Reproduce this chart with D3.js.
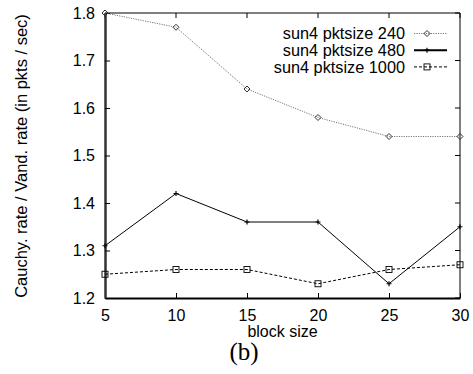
<!DOCTYPE html>
<html lang="en">
<head>
<meta charset="UTF-8">
<script src="https://d3js.org/d3.v7.min.js"></script>
<style>
  body { margin: 0; background: #fff; }
  text { font-family: "Liberation Sans", Arial, sans-serif; fill: #000; }
</style>
</head>
<body>
<div id="canvas"></div>
<script>
const blockSizes = [5, 10, 15, 20, 25, 30]
const pkt240 = [1.80, 1.77, 1.64, 1.58, 1.54, 1.54]
const pkt480 = [1.31, 1.42, 1.36, 1.36, 1.23, 1.35]
const pkt1000 = [1.25, 1.26, 1.26, 1.23, 1.26, 1.27]
const seriesNames = ["sun4 pktsize 240", "sun4 pktsize 480", "sun4 pktsize 1000"]
const yTicks = [1.2, 1.3, 1.4, 1.5, 1.6, 1.7, 1.8]

const W = 473, H = 374
const margin = {top: 13, right: 13, bottom: 76, left: 105}
const w = W - margin.left - margin.right
const h = H - margin.top - margin.bottom

const svg = d3.select("#canvas").append("svg").attr("width", W).attr("height", H)
const g = svg.append("g").attr("transform", `translate(${margin.left},${margin.top})`)

const x = d3.scaleLinear().domain([5, 30]).range([0, w])
const y = d3.scaleLinear().domain([1.2, 1.8]).range([h, 0])

// frame: top/right thin, left/bottom heavier
g.append("line").attr("x1", 0).attr("x2", w).attr("y1", 0).attr("y2", 0).attr("stroke", "#000").attr("stroke-width", 1)
g.append("line").attr("x1", w).attr("x2", w).attr("y1", 0).attr("y2", h).attr("stroke", "#000").attr("stroke-width", 1)

// inward ticks on top and right
g.selectAll(".tt").data(blockSizes).enter().append("line")
  .attr("x1", d => x(d)).attr("x2", d => x(d)).attr("y1", 0).attr("y2", 5)
  .attr("stroke", "#000")
g.selectAll(".rt").data(yTicks).enter().append("line")
  .attr("x1", w).attr("x2", w - 5).attr("y1", d => y(d)).attr("y2", d => y(d))
  .attr("stroke", "#000")

const xAxis = g.append("g").attr("transform", `translate(0,${h})`)
  .call(d3.axisBottom(x).tickValues(blockSizes).tickSizeInner(-5).tickSizeOuter(0).tickPadding(12))
const yAxis = g.append("g")
  .call(d3.axisLeft(y).tickValues(yTicks).tickFormat(d3.format(".1f")).tickSizeInner(-5).tickSizeOuter(0).tickPadding(10))
xAxis.select(".domain").attr("stroke-width", 2)
yAxis.select(".domain").attr("stroke-width", 2.5).attr("stroke", "#333")
svg.selectAll(".tick text").style("font-size", "16px").style("font-family", "'Liberation Sans', Arial, sans-serif")

g.append("text").attr("x", w / 2 + 0).attr("y", h + 39)
  .attr("text-anchor", "middle").style("font-size", "16px").text("block size")
svg.append("text").attr("transform", `translate(21,156) rotate(-90)`)
  .attr("text-anchor", "middle").attr("dy", "0.35em").style("font-size", "16.5px")
  .text("Cauchy. rate / Vand. rate (in pkts / sec)")
svg.append("text").attr("x", 244).attr("y", 360).attr("text-anchor", "middle")
  .style("font-family", "'Liberation Serif', 'DejaVu Serif', serif").style("font-size", "25px")
  .text("(b)")

const series = [
  {name: seriesNames[0], vals: pkt240, color: "#777", dash: "1.2,1.2", width: 1, marker: "diamond"},
  {name: seriesNames[1], vals: pkt480, color: "#000", dash: null, width: 1, marker: "plus"},
  {name: seriesNames[2], vals: pkt1000, color: "#000", dash: "3,2", width: 1, marker: "square"}
]

const line = d3.line().x(d => x(d[0])).y(d => y(d[1]))

function drawMarker(sel, type, cx, cy) {
  if (type === "diamond") {
    sel.append("path").attr("d", `M${cx},${cy - 3}L${cx + 3},${cy}L${cx},${cy + 3}L${cx - 3},${cy}Z`)
      .attr("fill", "none").attr("stroke", "#333").attr("stroke-width", 1)
  } else if (type === "plus") {
    sel.append("path").attr("d", `M${cx - 2.5},${cy}H${cx + 2.5}M${cx},${cy - 2.5}V${cy + 2.5}`)
      .attr("stroke", "#000").attr("stroke-width", 1.2)
  } else {
    sel.append("rect").attr("x", cx - 3).attr("y", cy - 3).attr("width", 6).attr("height", 6)
      .attr("fill", "none").attr("stroke", "#000").attr("stroke-width", 0.9)
  }
}

series.forEach(s => {
  const pts = blockSizes.map((b, i) => [b, s.vals[i]])
  g.append("path").datum(pts).attr("d", line).attr("fill", "none")
    .attr("stroke", s.color).attr("stroke-width", s.width)
    .attr("stroke-dasharray", s.dash)
  pts.forEach(p => drawMarker(g, s.marker, x(p[0]), y(p[1])))
})

// legend
const leg = svg.append("g")
series.forEach((s, i) => {
  const ly = 33.5 + i * 16.7
  leg.append("text").attr("x", 405).attr("y", ly).attr("dy", "0.35em")
    .attr("text-anchor", "end").style("font-size", "16.3px").text(s.name)
  leg.append("line").attr("x1", 414).attr("x2", 447).attr("y1", ly).attr("y2", ly)
    .attr("stroke", s.color).attr("stroke-width", i === 1 ? 2 : 1).attr("stroke-dasharray", s.dash)
  drawMarker(leg, s.marker, 427, ly)
})
</script>
</body>
</html>
